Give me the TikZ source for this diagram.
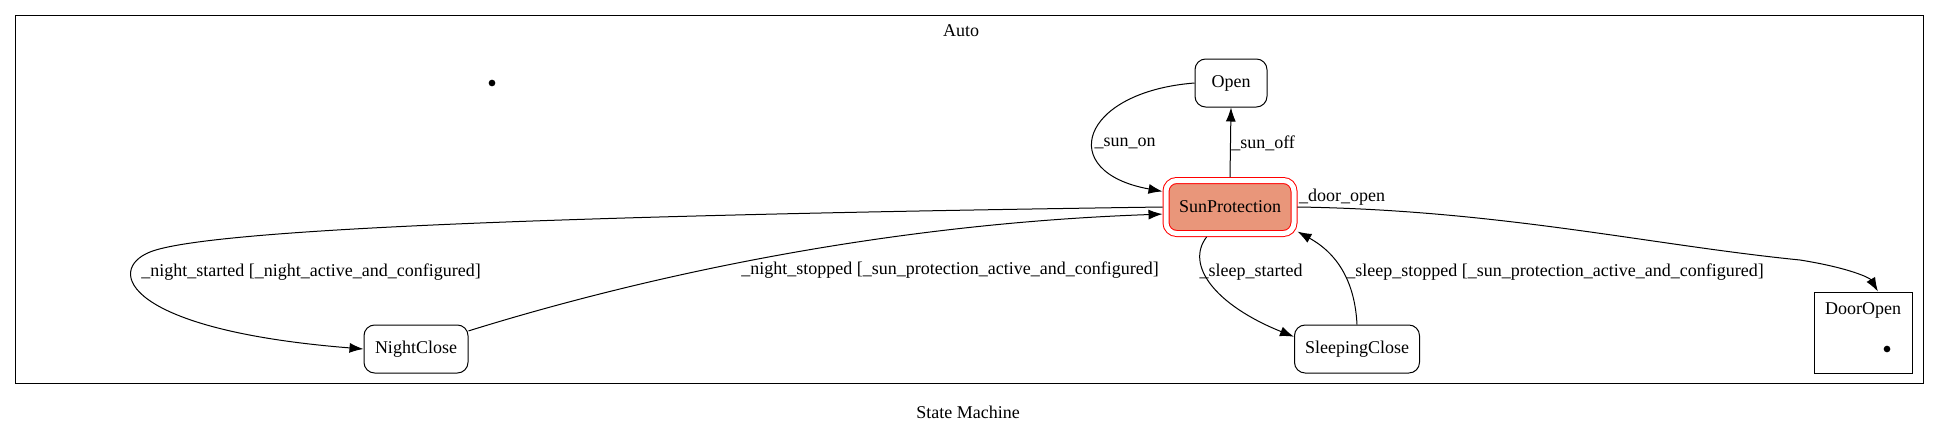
\documentclass[tikz,border=0pt]{standalone}
\usepackage{fontspec}
\setmainfont{Liberation Serif}
\usetikzlibrary{arrows.meta}
\definecolor{darksalmon}{HTML}{E9967A}

\begin{document}
\begin{tikzpicture}[x=0.75pt,y=-0.75pt,
    font=\fontsize{13.5pt}{16pt}\selectfont,
    state/.style={draw,rounded corners=8pt,line width=0.75pt,minimum height=36pt,inner sep=0pt},
    cluster/.style={draw,line width=0.75pt,inner sep=0pt},
    dot/.style={circle,fill,inner sep=0pt,minimum size=5pt},
    trans/.style={-{Latex[length=10.5pt,width=7.5pt]},line width=0.75pt}]
    \useasboundingbox (0,0) rectangle (1939,432);

    \begin{scope}
      \node[cluster,minimum width=1431pt,minimum height=276pt] (auto) at (969,199) {};
      \node (autolbl) at (961,31) {Auto};
      \node[dot] (autoinit) at (492,83) {};
    \end{scope}

    \begin{scope}
      \node[cluster,minimum width=73.5pt,minimum height=60.75pt] (dooropen) at (1863,332.5) {};
      \node (dooropenlbl) at (1863,310) {DoorOpen};
      \node[dot] (doorinit) at (1887,349) {};
    \end{scope}

    \node[state,minimum width=54pt] (open) at (1231,83) {Open};
    \node[state,draw=red,fill=darksalmon,double=white,double distance=3.75pt,
          minimum width=96pt,minimum height=39.75pt,outer sep=2.6pt] (sunprot) at (1230,207) {SunProtection};
    \node[state,minimum width=78pt] (nightclose) at (416,349) {NightClose};
    \node[state,minimum width=93.75pt] (sleepclose) at (1357,349) {SleepingClose};

    \draw[trans] (open.west) .. controls (1080,92) and (1055,172) .. (sunprot.167);
    \draw[trans] (sunprot.north) -- (open.south);
    \draw[trans] (sunprot.180) .. controls (600,215) and (210,228) .. (150,252)
                 .. controls (105,270) and (125,330) .. (nightclose.west);
    \draw[trans] (nightclose.19) .. controls (600,290) and (850,225) .. (sunprot.186);
    \draw[trans] (sunprot.232) .. controls (1185,265) and (1215,305) .. (sleepclose.169);
    \draw[trans] (sleepclose.north) .. controls (1355,285) and (1340,255) .. (sunprot.-20);
    \draw[trans] (sunprot.east) .. controls (1500,210) and (1650,245) .. (1800,260)
                 .. controls (1850,268) and (1870,278) .. (dooropen.70);

    \node (sunonlbl) at (1125,143) {\_sun\_on};
    \node[anchor=west,inner sep=0pt] (sunofflbl) at (1231,143) {\_sun\_off};
    \node (nightstartlbl) at (311,272) {\_night\_started [\_night\_active\_and\_configured]};
    \node (nightstoplbl) at (950,270) {\_night\_stopped [\_sun\_protection\_active\_and\_configured]};
    \node (sleepstartlbl) at (1251,272) {\_sleep\_started};
    \node (sleepstoplbl) at (1555,272) {\_sleep\_stopped [\_sun\_protection\_active\_and\_configured]};
    \node (doorlbl) at (1342,197) {\_door\_open};

    \node (title) at (968,412) {State Machine};
  \end{tikzpicture}
\end{document}
